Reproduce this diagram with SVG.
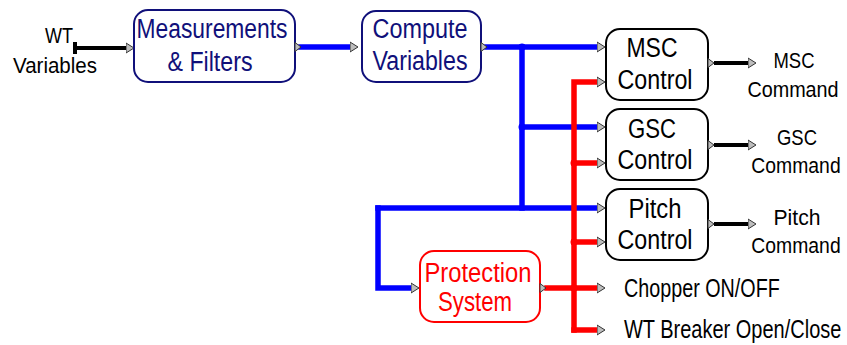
<svg xmlns="http://www.w3.org/2000/svg" width="847" height="345" viewBox="0 0 847 345">
<style>
text{font-family:"Liberation Sans",Arial,sans-serif}
.box{fill:#fff;stroke-width:2}
.navy{stroke:#10107a}
.blk{stroke:#000}
.redb{stroke:#ff0000}
.bt{font-size:27px;text-anchor:middle}
.lbl{font-size:22px;fill:#000;text-anchor:middle}
.big{font-size:25px;fill:#000}
.bl{fill:none;stroke:#0000ff;stroke-width:5.5;stroke-linecap:square;stroke-linejoin:miter}
.rd{fill:none;stroke:#ff0000;stroke-width:5.5;stroke-linecap:square;stroke-linejoin:miter}
.bk{fill:none;stroke:#000;stroke-width:4}
.port{fill:#bdbdbd;stroke:#333;stroke-width:1}
</style>
<defs>
<marker id="ah" markerUnits="userSpaceOnUse" markerWidth="10" markerHeight="12" viewBox="0 -6 10 12" refX="0" refY="0" orient="auto">
<path d="M0,-5 L8,0 L0,5 z" fill="#bdbdbd" stroke="#333" stroke-width="1"/>
</marker>
<path id="pt" d="M0,-4.5 L6,0 L0,4.5 z"/>
</defs>
<g id="connectors">
<rect x="73" y="42" width="4" height="12" fill="#000"/>
<path class="bk" d="M75,48 H126" marker-end="url(#ah)"/>
<path class="bl" d="M301,47 H350" marker-end="url(#ah)"/>
<path class="bl" d="M487,47 H597" marker-end="url(#ah)"/>
<path class="bl" d="M522,47 V208"/>
<path class="bl" d="M522,127 H597" marker-end="url(#ah)"/>
<path class="bl" d="M378,208 H597" marker-end="url(#ah)"/>
<path class="bl" d="M378,208 V288 H411" marker-end="url(#ah)"/>
<path class="rd" d="M574,330 V82 H597" marker-end="url(#ah)"/>
<path class="rd" d="M574,163 H597" marker-end="url(#ah)"/>
<path class="rd" d="M574,242 H597" marker-end="url(#ah)"/>
<path class="rd" d="M547,288 H597" marker-end="url(#ah)"/>
<path class="rd" d="M574,330 H597" marker-end="url(#ah)"/>
<circle cx="522" cy="47" r="3.5" fill="#0000ff"/>
<circle cx="522" cy="127" r="3.5" fill="#0000ff"/>
<circle cx="574" cy="163" r="3.5" fill="#ff0000"/>
<circle cx="574" cy="242" r="3.5" fill="#ff0000"/>
<circle cx="574" cy="288" r="3.5" fill="#ff0000"/>
<path class="bk" d="M714,63 H748" marker-end="url(#ah)"/>
<path class="bk" d="M714,145 H748" marker-end="url(#ah)"/>
<path class="bk" d="M714,224 H748" marker-end="url(#ah)"/>
</g>
<g id="wt-variables">
<text x="45" y="43" font-size="22" textLength="28" lengthAdjust="spacingAndGlyphs">WT</text>
<text x="13" y="73" font-size="22" textLength="84" lengthAdjust="spacingAndGlyphs">Variables</text>
</g>
<g id="measurements">
<rect class="box navy" x="134" y="10" width="161" height="72" rx="14"/>
<use href="#pt" x="295" y="47" class="port"/>
<text class="bt" x="212" y="38" fill="#10107a" textLength="151" lengthAdjust="spacingAndGlyphs">Measurements</text>
<text class="bt" x="210" y="71" fill="#10107a" textLength="85" lengthAdjust="spacingAndGlyphs">&amp; Filters</text>
</g>
<g id="compute">
<rect class="box navy" x="362" y="11" width="119" height="71" rx="14"/>
<use href="#pt" x="481" y="47" class="port"/>
<text class="bt" x="420" y="38" fill="#10107a" textLength="95" lengthAdjust="spacingAndGlyphs">Compute</text>
<text class="bt" x="420" y="70" fill="#10107a" textLength="95" lengthAdjust="spacingAndGlyphs">Variables</text>
</g>
<g id="msc">
<rect class="box blk" x="606" y="29" width="102" height="71" rx="14"/>
<use href="#pt" x="708" y="63" class="port"/>
<text class="bt" x="652" y="57" textLength="51" lengthAdjust="spacingAndGlyphs">MSC</text>
<text class="bt" x="655" y="89" textLength="75" lengthAdjust="spacingAndGlyphs">Control</text>
</g>
<g id="gsc">
<rect class="box blk" x="606" y="109" width="102" height="71" rx="14"/>
<use href="#pt" x="708" y="145" class="port"/>
<text class="bt" x="652" y="138" textLength="48" lengthAdjust="spacingAndGlyphs">GSC</text>
<text class="bt" x="655" y="169" textLength="75" lengthAdjust="spacingAndGlyphs">Control</text>
</g>
<g id="pitch">
<rect class="box blk" x="606" y="189" width="102" height="71" rx="14"/>
<use href="#pt" x="708" y="224" class="port"/>
<text class="bt" x="655" y="218" textLength="53" lengthAdjust="spacingAndGlyphs">Pitch</text>
<text class="bt" x="655" y="249" textLength="75" lengthAdjust="spacingAndGlyphs">Control</text>
</g>
<g id="protection">
<rect class="box redb" x="420" y="251" width="120" height="71" rx="14"/>
<use href="#pt" x="540" y="288" class="port"/>
<text class="bt" x="478" y="282" fill="#ff0000" textLength="107" lengthAdjust="spacingAndGlyphs">Protection</text>
<text class="bt" x="475" y="311" fill="#ff0000" textLength="74" lengthAdjust="spacingAndGlyphs">System</text>
</g>
<g id="msc-command">
<text class="lbl" x="794" y="68" textLength="41" lengthAdjust="spacingAndGlyphs">MSC</text>
<text class="lbl" transform="translate(793,97) scale(0.9,1)">Command</text>
</g>
<g id="gsc-command">
<text class="lbl" x="797" y="145" textLength="40" lengthAdjust="spacingAndGlyphs">GSC</text>
<text class="lbl" transform="translate(796,173) scale(0.88,1)">Command</text>
</g>
<g id="pitch-command">
<text class="lbl" x="797" y="225" textLength="47" lengthAdjust="spacingAndGlyphs">Pitch</text>
<text class="lbl" transform="translate(796,253) scale(0.88,1)">Command</text>
</g>
<g id="chopper">
<text class="big" transform="translate(624,297) scale(0.79,1)">Chopper ON/OFF</text>
</g>
<g id="breaker">
<text class="big" transform="translate(624,338) scale(0.8,1)">WT Breaker Open/Close</text>
</g>
</svg>
